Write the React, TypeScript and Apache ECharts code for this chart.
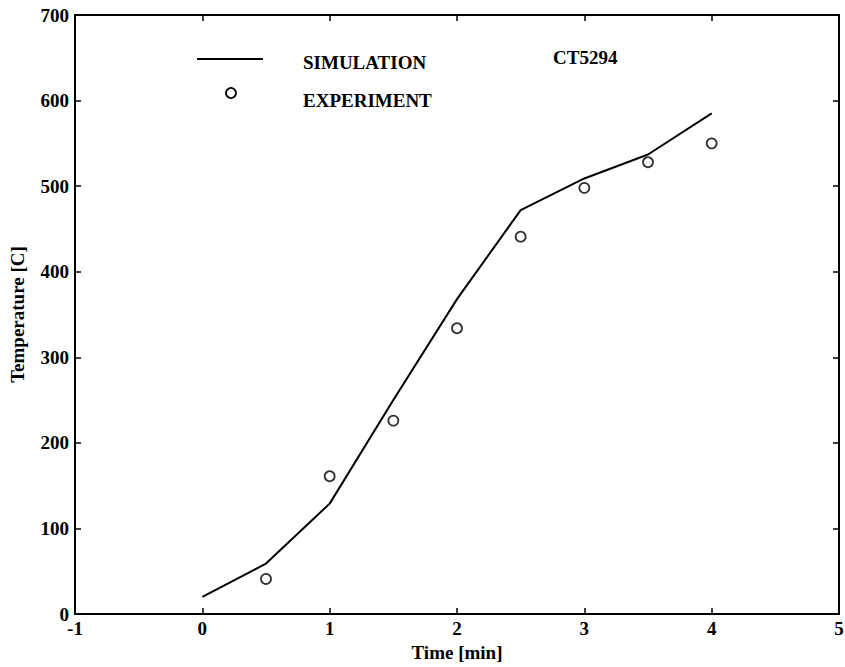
import React, { useEffect, useRef } from "react";
import * as echarts from "echarts";

const simTime = [0, 0.5, 1, 1.5, 2, 2.5, 3, 3.5, 4];
const simTemp = [20, 59, 129, 250, 368, 472, 509, 537, 585];
const expTime = [0.5, 1, 1.5, 2, 2.5, 3, 3.5, 4];
const expTemp = [41, 161, 226, 334, 441, 498, 528, 550];
const xTicks = { min: -1, max: 5, interval: 1 };
const yTicks = { min: 0, max: 700, interval: 100 };
const legendNames = ["SIMULATION", "EXPERIMENT"];
const caseLabel = "CT5294";
const xTitle = "Time [min]";
const yTitle = "Temperature [C]";

const FONT = "'Liberation Serif', 'Times New Roman', serif";

export default function App() {
  const ref = useRef<HTMLDivElement>(null);
  useEffect(() => {
    if (!ref.current) return;
    const chart = echarts.init(ref.current, undefined, { renderer: "svg" });
    const axisLine = { show: true, onZero: false, lineStyle: { color: "#000", width: 2 } };
    const tick = { show: true, inside: true, length: 6, lineStyle: { color: "#000", width: 1.5 } };
    const label = {
      color: "#000",
      fontFamily: FONT,
      fontWeight: "bold",
      fontSize: 19,
    };
    const nameStyle = { color: "#000", fontFamily: FONT, fontWeight: "bold", fontSize: 19 };
    chart.setOption({
      animation: false,
      backgroundColor: "#fff",
      grid: { left: 75, right: 6, top: 15, bottom: 53, containLabel: false, outerBoundsMode: "none" },
      xAxis: [
        {
          type: "value",
          position: "bottom",
          ...xTicks,
          axisLine,
          axisTick: tick,
          splitLine: { show: false },
          axisLabel: { ...label, margin: 5, showMinLabel: true, showMaxLabel: true, hideOverlap: false },
          name: xTitle,
          nameLocation: "middle",
          nameGap: 29,
          nameTextStyle: nameStyle,
        },
        {
          type: "value",
          position: "top",
          ...xTicks,
          axisLine,
          axisTick: tick,
          splitLine: { show: false },
          axisLabel: { show: false },
        },
      ],
      yAxis: [
        {
          type: "value",
          position: "left",
          ...yTicks,
          axisLine,
          axisTick: tick,
          splitLine: { show: false },
          axisLabel: { ...label, margin: 6, showMinLabel: true, showMaxLabel: true },
          name: yTitle,
          nameLocation: "middle",
          nameRotate: 90,
          nameGap: 48,
          nameTextStyle: nameStyle,
        },
        {
          type: "value",
          position: "right",
          ...yTicks,
          axisLine,
          axisTick: tick,
          splitLine: { show: false },
          axisLabel: { show: false },
        },
      ],
      series: [
        {
          name: legendNames[0],
          type: "line",
          data: simTime.map((t, i) => [t, simTemp[i]]),
          showSymbol: false,
          symbol: "none",
          lineStyle: { color: "#000", width: 2 },
          z: 2,
        },
        {
          name: legendNames[1],
          type: "scatter",
          data: expTime.map((t, i) => [t, expTemp[i]]),
          symbol: "circle",
          symbolSize: 10,
          itemStyle: { color: "#fff", borderColor: "#000", borderWidth: 1.8 },
          z: 3,
        },
      ],
      graphic: [
        { type: "line", shape: { x1: 197, y1: 59, x2: 263, y2: 59 }, style: { stroke: "#000", lineWidth: 2 } },
        { type: "circle", shape: { cx: 231, cy: 93, r: 5 }, style: { fill: "#fff", stroke: "#000", lineWidth: 1.8 } },
        {
          type: "text",
          x: 303,
          y: 62,
          style: { text: legendNames[0], fill: "#000", font: `bold 19px ${FONT}`, verticalAlign: "middle" },
        },
        {
          type: "text",
          x: 303,
          y: 100,
          style: { text: legendNames[1], fill: "#000", font: `bold 19px ${FONT}`, verticalAlign: "middle" },
        },
        {
          type: "text",
          x: 553,
          y: 57,
          style: { text: caseLabel, fill: "#000", font: `bold 19px ${FONT}`, verticalAlign: "middle" },
        },
      ],
    });
    return () => chart.dispose();
  }, []);
  return (
    <div
      ref={ref}
      style={{ position: "fixed", left: 0, top: 0, width: 845, height: 667, background: "#fff" }}
    />
  );
}
